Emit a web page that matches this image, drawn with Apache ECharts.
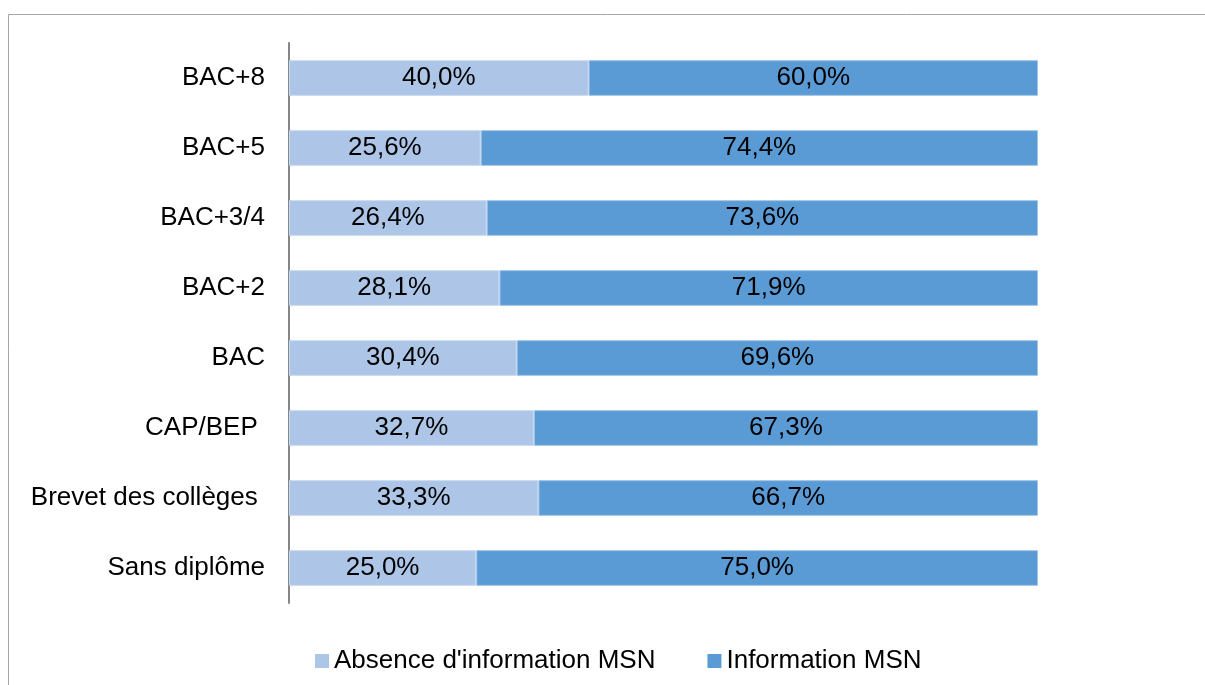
<!DOCTYPE html>
<html>
<head>
<meta charset="utf-8">
<script src="https://cdn.jsdelivr.net/npm/echarts@6/dist/echarts.min.js"></script>
<style>
  html, body { margin: 0; padding: 0; background: #fff; }
  #chart { width: 1205px; height: 685px; }
</style>
</head>
<body>
<div id="chart"></div>
<script>
// bottom to top, as the y axis draws them
const categories = ['Sans diplôme', 'Brevet des collèges ', 'CAP/BEP ', 'BAC', 'BAC+2', 'BAC+3/4', 'BAC+5', 'BAC+8'];
const absence = [25.0, 33.3, 32.7, 30.4, 28.1, 26.4, 25.6, 40.0];
const information = [75.0, 66.7, 67.3, 69.6, 71.9, 73.6, 74.4, 60.0];
const seriesNames = ["Absence d'information MSN", 'Information MSN'];

const myChart = echarts.init(document.getElementById('chart'));

const fmt = p => p.value.toFixed(1).replace('.', ',') + '%';

const option = {
  animation: false,
  textStyle: { fontFamily: 'Liberation Sans, Arial, sans-serif' },
  graphic: [{
    type: 'rect',
    shape: { x: 8.5, y: 14.5, width: 1210, height: 690 },
    style: { fill: 'none', stroke: '#a6a6a6', lineWidth: 1 },
    silent: true
  }],
  grid: { left: 289, right: 167, top: 43, bottom: 82 },
  legend: {
    top: 643,
    left: 310,
    itemWidth: 14,
    itemHeight: 14,
    itemGap: 52,
    icon: 'rect',
    itemStyle: { borderWidth: 0 },
    textStyle: { fontSize: 26, color: '#000' },
    data: seriesNames
  },
  xAxis: {
    type: 'value',
    min: 0,
    max: 100,
    show: false
  },
  yAxis: {
    type: 'category',
    data: categories,
    axisLine: { lineStyle: { color: '#868686', width: 2 } },
    axisTick: { show: false },
    axisLabel: { fontSize: 26, color: '#000', margin: 24 }
  },
  series: [
    {
      name: seriesNames[0],
      type: 'bar',
      stack: 'Total',
      barWidth: '51%',
      data: absence,
      itemStyle: { color: '#adc6e7', borderColor: '#c9d9ef', borderWidth: 1 },
      label: { show: true, position: 'inside', fontSize: 26, color: '#000', formatter: fmt }
    },
    {
      name: seriesNames[1],
      type: 'bar',
      stack: 'Total',
      barWidth: '51%',
      data: information,
      itemStyle: { color: '#5b9bd5', borderColor: '#9ec3e6', borderWidth: 1 },
      label: { show: true, position: 'inside', fontSize: 26, color: '#000', formatter: fmt }
    }
  ]
};

option && myChart.setOption(option);
</script>
</body>
</html>
